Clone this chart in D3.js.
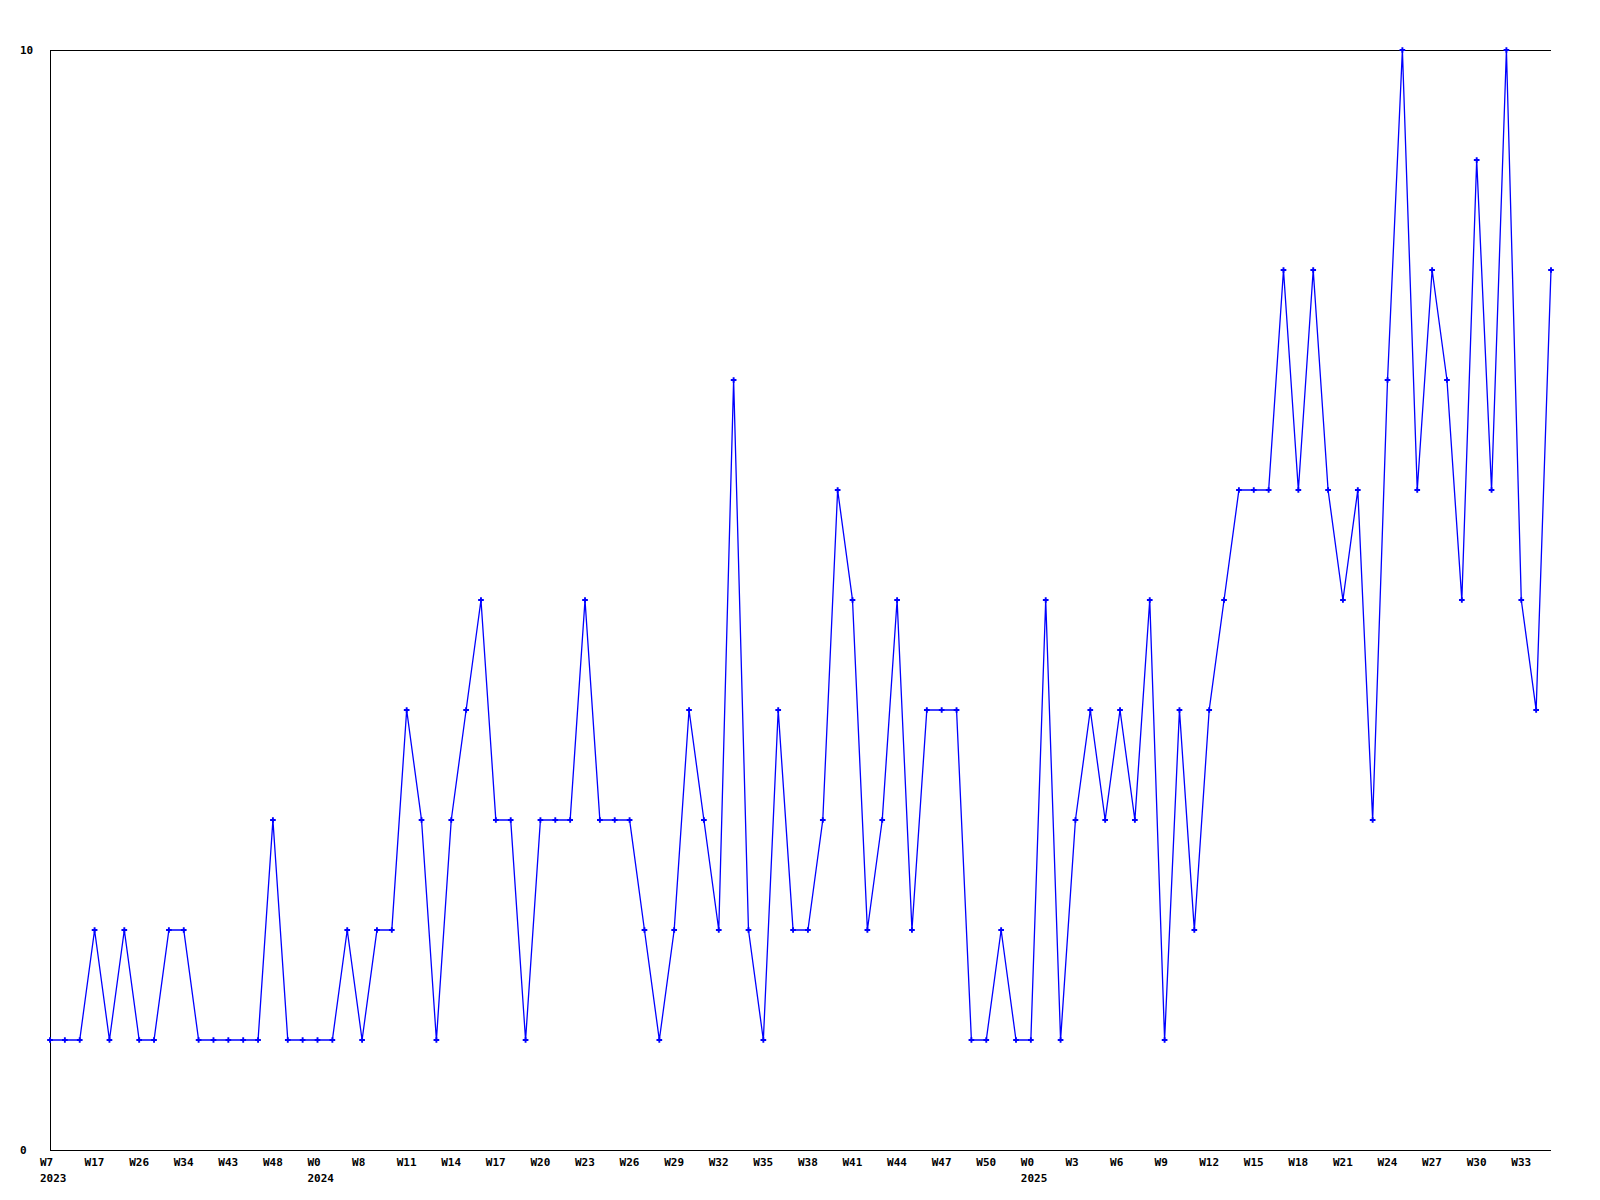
<!DOCTYPE html>
<html><head><meta charset="utf-8">
<script src="https://cdn.jsdelivr.net/npm/d3@7"></script>
<style>body{margin:0;background:#fff}svg{display:block}</style>
</head><body>
<script>
const values = [1,1,1,2,1,2,1,1,2,2,1,1,1,1,1,3,1,1,1,1,2,1,2,2,4,3,1,3,4,5,3,3,1,3,3,3,5,3,3,3,2,1,2,4,3,2,7,2,1,4,2,2,3,6,5,2,3,5,2,4,4,4,1,1,2,1,1,5,1,3,4,3,4,3,5,1,4,2,4,5,6,6,6,8,6,8,6,5,6,3,7,10,6,8,7,5,9,6,10,5,4,8];
const tickIndex = [0,3,6,9,12,15,18,21,24,27,30,33,36,39,42,45,48,51,54,57,60,63,66,69,72,75,78,81,84,87,90,93,96,99];
const tickWeeks = ["W7","W17","W26","W34","W43","W48","W0","W8","W11","W14","W17","W20","W23","W26","W29","W32","W35","W38","W41","W44","W47","W50","W0","W3","W6","W9","W12","W15","W18","W21","W24","W27","W30","W33"];
const tickYears = ["2023","","","","","","2024","","","","","","","","","","","","","","","","2025","","","","","","","","","","",""];
const yTicks = [0,10];

const W=1600,H=1200, L=50, R=1551, T=50, B=1150;
const svg=d3.select("body").append("svg").attr("width",W).attr("height",H);
const x=d3.scaleLinear().domain([0,values.length-1]).range([L,R]);
const y=d3.scaleLinear().domain([0,10]).range([B,T]);
const font="'DejaVu Sans Mono', monospace";

// frame
svg.append("line").attr("x1",L+0.5).attr("x2",L+0.5).attr("y1",T).attr("y2",B+0.5).attr("stroke","#000");
svg.append("line").attr("x1",L).attr("x2",R).attr("y1",T+0.5).attr("y2",T+0.5).attr("stroke","#000");
svg.append("line").attr("x1",L).attr("x2",R).attr("y1",B+0.5).attr("y2",B+0.5).attr("stroke","#000");

// y labels
svg.selectAll("text.y").data(yTicks).join("text").attr("class","y")
  .attr("x",20).attr("y",d=>y(d)+4).text(d=>d)
  .attr("font-family",font).attr("font-weight","bold").attr("font-size",11).attr("fill","#000");

// x labels
svg.selectAll("text.xw").data(tickIndex).join("text").attr("class","xw")
  .attr("x",d=>x(d)-10).attr("y",1166).text((d,i)=>tickWeeks[i])
  .attr("font-family",font).attr("font-weight","bold").attr("font-size",11).attr("fill","#000");
svg.selectAll("text.xy").data(tickIndex).join("text").attr("class","xy")
  .attr("x",d=>x(d)-10).attr("y",1182).text((d,i)=>tickYears[i])
  .attr("font-family",font).attr("font-weight","bold").attr("font-size",11).attr("fill","#000");

// line
const line=d3.line().x((d,i)=>x(i)).y(d=>y(d));
svg.append("path").datum(values).attr("d",line).attr("fill","none").attr("stroke","#0000ff").attr("stroke-width",1.3);

// markers
svg.selectAll("path.m").data(values).join("path").attr("class","m")
  .attr("transform",(d,i)=>`translate(${x(i)},${y(d)})`)
  .attr("d",d3.symbol().type(d3.symbolCross).size(18)).attr("fill","#0000ff");
</script>
</body></html>
